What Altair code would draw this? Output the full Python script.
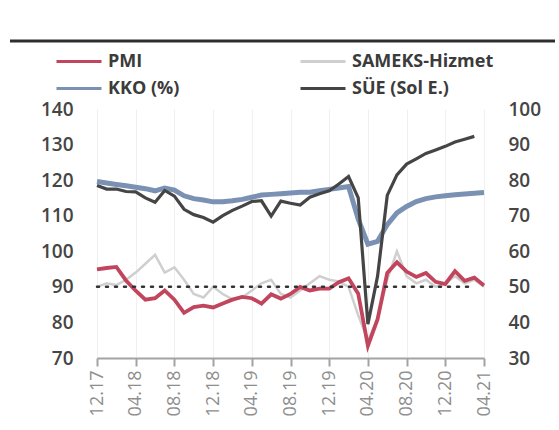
import altair as alt
import pandas as pd

# ---- data (monthly, Dec 2017 .. Apr 2021) ----
tick_labels = ["12.17", "04.18", "08.18", "12.18", "04.19", "08.19",
               "12.19", "04.20", "08.20", "12.20", "04.21"]
month_index = list(range(41))

pmi = [54.9, 55.3, 55.6, 51.8, 48.9, 46.4, 46.8, 49.0, 46.4, 42.7, 44.3, 44.7, 44.2,
       45.3, 46.4, 47.2, 46.8, 45.3, 47.9, 46.7, 48.0, 50.0, 49.0, 49.5, 49.5,
       51.3, 52.4, 48.1, 33.4, 40.9, 53.9, 56.9, 54.3, 52.8, 53.9, 51.4, 50.8,
       54.4, 51.7, 52.6, 50.4]

sameks = [50.0, 51.0, 50.5, 52.0, 54.0, 56.5, 59.0, 54.0, 55.5, 52.0, 48.0, 47.0, 50.0,
          48.0, 46.5, 47.0, 49.0, 51.0, 52.0, 48.0, 47.0, 49.0, 51.0, 53.0, 52.0,
          51.5, 50.0, 42.0, 35.0, 41.0, 52.0, 60.0, 53.0, 51.0, 52.0, 50.0, 51.0,
          53.0, 51.0, 52.0, 50.0]

kko = [79.6, 79.2, 78.8, 78.4, 78.0, 77.6, 77.0, 77.8, 77.2, 75.6, 74.8, 74.4, 73.9,
       73.9, 74.2, 74.6, 75.2, 75.8, 76.0, 76.2, 76.4, 76.6, 76.6, 77.0, 77.4,
       77.8, 78.2, 69.0, 62.0, 62.8, 67.5, 70.8, 72.6, 74.0, 74.8, 75.3, 75.6,
       75.9, 76.1, 76.3, 76.5]

sue = [118.5, 117.5, 117.5, 116.8, 116.7, 115.0, 113.8, 117.1, 115.5, 111.8, 110.3, 109.5, 108.2,
       110.0, 111.5, 112.7, 114.0, 114.2, 109.9, 114.1, 113.5, 113.0, 115.2, 116.2, 117.0,
       118.9, 121.0, 115.0, 79.5, 93.0, 115.7, 121.5, 124.5, 126.0, 127.5, 128.5, 129.5,
       130.7, 131.5, 132.3]

threshold = 50
threshold_span = [0, 39]

# legend order (two columns, filled column by column)
series_names = ["PMI", "KKO (%)", "SAMEKS-Hizmet", "SÜE (Sol E.)"]
series_colors = ["#c2455e", "#7a91b3", "#cfcfcf", "#454545"]


def frame(name, values):
    return pd.DataFrame({"idx": month_index[:len(values)], "value": values, "series": name})


df_pmi = frame("PMI", pmi)
df_kko = frame("KKO (%)", kko)
df_sameks = frame("SAMEKS-Hizmet", sameks)
df_sue = frame("SÜE (Sol E.)", sue)
df_thr = pd.DataFrame({"idx": [threshold_span[0]], "idx_end": [threshold_span[1]], "value": [threshold]})

label_expr = "[" + ",".join("'%s'" % t for t in tick_labels) + "][round(datum.value/4)]"

x_scale = alt.Scale(domain=[0, 40], nice=False, zero=False)
x_axis = alt.Axis(values=list(range(0, 41, 4)), labelExpr=label_expr, labelAngle=-90,
                  labelFont="Open Sans", labelFontSize=18, labelColor="#8e8e8e",
                  labelPadding=4, tickSize=8, tickColor="#a3a3a3", tickWidth=2,
                  domainColor="#a3a3a3", domainWidth=2, grid=True, gridColor="#f0f0f0",
                  title=None)
x_enc = alt.X("idx:Q", scale=x_scale, axis=x_axis)

axis_common = dict(domain=False, ticks=False, grid=False, labelFont="Open Sans",
                   labelFontSize=19, labelFontWeight=600, labelColor="#454545",
                   labelPadding=24, title=None)
y_right = alt.Y("value:Q",
                scale=alt.Scale(domain=[30, 100], nice=False, zero=False),
                axis=alt.Axis(orient="right", values=list(range(30, 101, 10)), **axis_common))
y_left = alt.Y("value:Q",
               scale=alt.Scale(domain=[70, 140], nice=False, zero=False),
               axis=alt.Axis(orient="left", values=list(range(70, 141, 10)), **axis_common))

legend = alt.Legend(title=None, orient="none", legendX=-42, legendY=-58, columns=2,
                    gridAlign="all", symbolType="stroke", symbolSize=2025, symbolStrokeWidth=3,
                    clipHeight=21, rowPadding=6, columnPadding=49,
                    labelFont="Open Sans", labelFontSize=18, labelFontWeight=700,
                    labelColor="#3b3b3b", labelLimit=300, labelOffset=5)
color_enc = alt.Color("series:N", scale=alt.Scale(domain=series_names, range=series_colors),
                      legend=legend)

gray = alt.Chart(df_sameks).mark_line(strokeWidth=2.5).encode(x=x_enc, y=y_right, color=color_enc)
red = alt.Chart(df_pmi).mark_line(strokeWidth=3.8).encode(x=x_enc, y=y_right, color=color_enc)
blue = alt.Chart(df_kko).mark_line(strokeWidth=5).encode(x=x_enc, y=y_right, color=color_enc)
dotted = alt.Chart(df_thr).mark_rule(strokeDash=[2, 7], strokeWidth=2.5, color="#333333",
                                     strokeCap="round").encode(x=x_enc, x2="idx_end:Q", y=y_right)
right_group = alt.layer(gray, red, blue, dotted)

dark = alt.Chart(df_sue).mark_line(strokeWidth=3.2).encode(x=x_enc, y=y_left, color=color_enc)
top_line = alt.Chart(df_thr).mark_rule(color="#2e2e2e", strokeWidth=3).encode(
    x=alt.value(-87), x2=alt.value(458), y=alt.value(-68))
left_group = alt.layer(dark, top_line)

chart = alt.layer(right_group, left_group).resolve_scale(y="independent").properties(
    width=387, height=249,
    padding={"left": 97, "top": 109, "right": 75, "bottom": 72},
    autosize=alt.AutoSizeParams(type="none"),
    background="white",
).configure_view(strokeWidth=0)

chart.save("out.html", embed_options={"renderer": "svg", "actions": False})
